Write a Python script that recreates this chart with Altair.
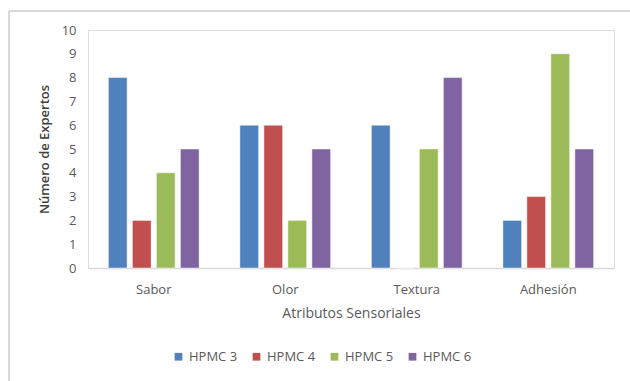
import altair as alt
import pandas as pd

categories = ["Sabor", "Olor", "Textura", "Adhesión"]
series = ["HPMC 3", "HPMC 4", "HPMC 5", "HPMC 6"]
hpmc3 = [8, 6, 6, 2]
hpmc4 = [2, 6, 0, 3]
hpmc5 = [4, 2, 5, 9]
hpmc6 = [5, 5, 8, 5]
colors = ["#4F81BD", "#C0504D", "#9BBB59", "#8064A2"]

rows = []
for s, vals in zip(series, [hpmc3, hpmc4, hpmc5, hpmc6]):
    for c, v in zip(categories, vals):
        rows.append({"Atributo": c, "Serie": s, "Valor": v})
df = pd.DataFrame(rows)

FONT = "Open Sans"
GRAY = "#595959"

bars = alt.Chart(df).mark_bar(stroke="white", strokeWidth=0.6, strokeOpacity=0.8).encode(
    x=alt.X("Atributo:N", sort=categories,
            scale=alt.Scale(paddingInner=0.31, paddingOuter=0.155),
            axis=alt.Axis(title="Atributos Sensoriales", labelAngle=0, ticks=False,
                          domainColor="#d9d9d9", domainWidth=1.5,
                          labelColor=GRAY, labelFont=FONT, labelFontSize=13, labelPadding=15,
                          titleColor=GRAY, titleFont=FONT, titleFontSize=14,
                          titleFontWeight="normal", titlePadding=10)),
    xOffset=alt.XOffset("Serie:N", sort=series, scale=alt.Scale(paddingInner=0.22)),
    y=alt.Y("Valor:Q", scale=alt.Scale(domain=[0, 10], nice=False),
            axis=alt.Axis(title="Número de Expertos", values=list(range(0, 11)),
                          labelOverlap=False, grid=False, domain=False, ticks=False,
                          labelColor=GRAY, labelFont=FONT, labelFontSize=13, labelPadding=12,
                          titleColor="#404040", titleFont=FONT, titleFontSize=13,
                          titleFontWeight=600, titlePadding=10)),
    color=alt.Color("Serie:N", sort=series, scale=alt.Scale(domain=series, range=colors),
                    legend=alt.Legend(title=None, orient="none", direction="horizontal",
                                      legendX=84, legendY=320, symbolType="square",
                                      symbolSize=60, symbolStrokeWidth=0, columnPadding=12,
                                      labelColor=GRAY, labelFont=FONT, labelFontSize=13,
                                      labelOffset=4)),
)

border_df = pd.DataFrame({"k": [0]})
top_border = alt.Chart(border_df).mark_rule(color="#d9d9d9", strokeWidth=2).encode(
    x=alt.value(-79), x2=alt.value(560), y=alt.value(-19)
)
left_border = alt.Chart(border_df).mark_rule(color="#d9d9d9", strokeWidth=2).encode(
    x=alt.value(-79), y=alt.value(-19), y2=alt.value(360)
)

chart = alt.layer(bars, top_border, left_border).properties(
    width=526, height=238,
    autosize=alt.AutoSizeParams(type="none"),
    padding={"left": 88, "top": 30, "right": 16, "bottom": 113},
).configure_view(stroke=None).configure(background="white")

chart.save("out.html", embed_options={"renderer": "svg", "actions": False})
